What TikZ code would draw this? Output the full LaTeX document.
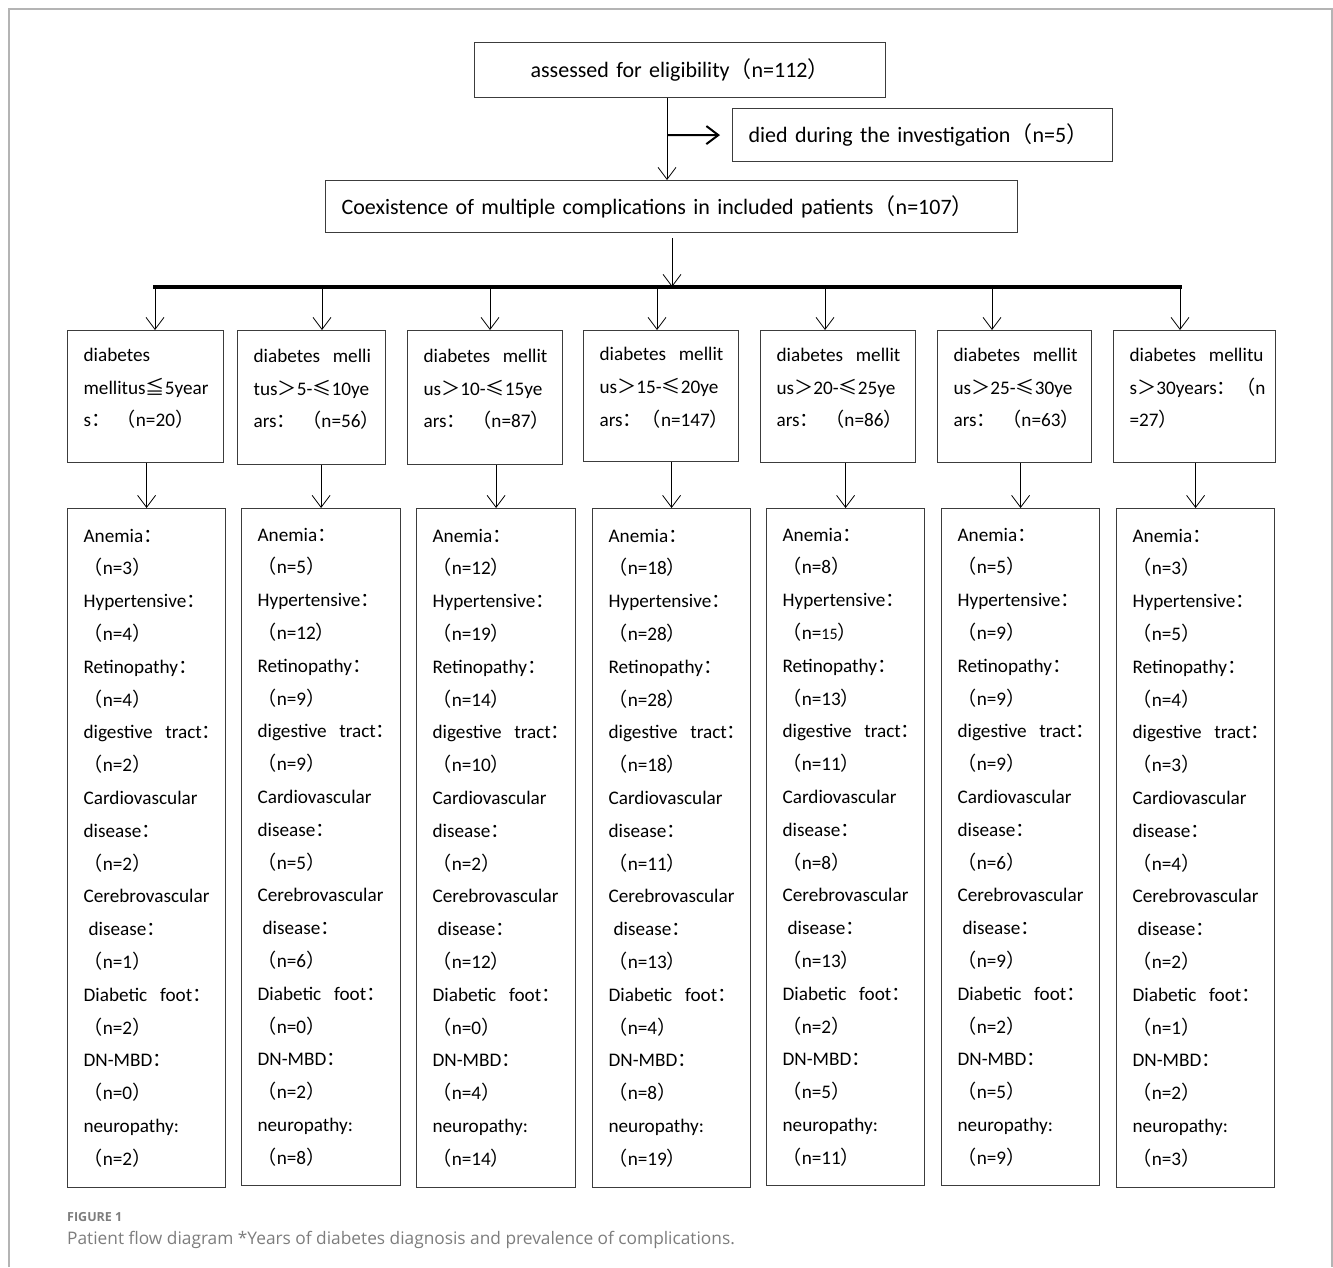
\documentclass[tikz,border=0pt]{standalone}
\usepackage{fontspec}
\setmainfont{Carlito}
\newfontfamily\cjk{Noto Sans CJK SC}
\newfontfamily\capfont{Open Sans}
\usetikzlibrary{arrows.meta,positioning,calc}
\definecolor{boxgray}{RGB}{60,60,60}
\definecolor{framegray}{RGB}{180,180,180}
\definecolor{captiongray}{RGB}{125,125,125}
\hyphenpenalty=10000
\exhyphenpenalty=10000
% full-width signs
\newcommand{\fwl}{{\cjk （}}
\newcommand{\fwr}{{\cjk ）}}
\newcommand{\fwc}{{\cjk ：}}
\newcommand{\fwg}{{\cjk ＞}}
\newcommand{\fwle}{{\cjk ≤}}
\newcommand{\fwlqq}{{\cjk ≦}}
\newcommand{\topsize}{\fontsize{22}{27}\selectfont}
% complication list of one group
\newcommand{\complist}[9]{Anemia\fwc\\\fwl n=#1\fwr\\Hypertensive\fwc\\\fwl n=#2\fwr\\Retinopathy\fwc\\\fwl n=#3\fwr\\digestive~~tract\fwc\\\fwl n=#4\fwr\\Cardiovascular\\disease\fwc\\\fwl n=#5\fwr\\Cerebrovascular\\\hspace*{5pt}disease\fwc\\\fwl n=#6\fwr\\Diabetic~~foot\fwc\\\fwl n=#7\fwr\\DN-MBD\fwc\\\fwl n=#8\fwr\\neuropathy:\\\fwl n=#9\fwr}

\begin{document}
\begin{tikzpicture}[x=1pt,y=-1pt,
  flowbox/.style={draw=boxgray, line width=1.2pt, inner xsep=16pt, inner ysep=0pt, align=left, anchor=north west},
  rowfont/.style={font=\fontsize{19.2}{32.8}\selectfont},
  arr/.style={-{Straight Barb[length=12pt,width=18pt]}, line width=0.8pt},
  bar/.style={line width=3.5pt}]
\useasboundingbox (0,0) rectangle (1333,1267);

% Frame of the figure
\draw[framegray, line width=1.5pt] (9,1267) -- (9,9) -- (1332,9) -- (1332,1267);

% Top of the flow
\node[flowbox, font=\topsize, align=center, minimum width=411pt, minimum height=55pt, text width=379pt] (assess) at (474,42) {assessed for eligibility\fwl n=112\fwr};
\node[flowbox, font=\topsize, minimum width=380pt, minimum height=53pt, text width=348pt] (died) at (732,108) {died during the investigation\fwl n=5\fwr};
\node[flowbox, font=\topsize, minimum width=692pt, minimum height=52pt, text width=660pt] (coex) at (325,180) {Coexistence of multiple complications in included patients\fwl n=107\fwr};

\coordinate (split) at (667,135);
\draw[arr] (split |- assess.south) -- (split |- coex.north);
\draw[arr, line width=2pt, shorten >=12pt] (split) -- (died.west);

% Branching bar
\coordinate (hub) at (672,287);
\coordinate (barL) at (153,287);
\coordinate (barR) at (1182,287);
\draw[arr] ([yshift=-5pt]hub |- coex.south) -- (hub);
\draw[bar] (barL) -- (barR);

% Groups by years of diabetes
\foreach \i/\l/\w/\h/\dx/\txt in {
  1/67/156/132/155/{diabetes\\mellitus\fwlqq 5year\\s\fwc~\fwl n=20\fwr},
  2/237/148/134/322/{diabetes~~melli\\tus\fwg 5-\fwle 10ye\\ars\fwc~\fwl n=56\fwr},
  3/407/155/134/490/{diabetes~~mellit\\us\fwg 10-\fwle 15ye\\ars\fwc~\fwl n=87\fwr},
  4/583/155/131/657/{diabetes~~mellit\\us\fwg 15-\fwle 20ye\\ars\fwc\fwl n=147\fwr},
  5/760/155/132/825/{diabetes~~mellit\\us\fwg 20-\fwle 25ye\\ars\fwc~\fwl n=86\fwr},
  6/937/154/132/992/{diabetes~~mellit\\us\fwg 25-\fwle 30ye\\ars\fwc~\fwl n=63\fwr},
  7/1113/162/132/1180/{diabetes~~mellitu\\s\fwg 30years\fwc\fwl n\\=27\fwr}}
{
  \pgfmathsetmacro\tw{\w-32}
  \node[flowbox, rowfont, text depth=84pt, minimum width=\w pt, minimum height=\h pt, text width=\tw pt] (g\i) at (\l,330) {\txt};
  \coordinate (d\i) at (\dx,287);
  \draw[arr] (d\i) -- (d\i |- g\i.north);
}

% Complications of each group
\foreach \i/\l/\w/\h/\txt in {
  1/67/158/679/{\complist{3}{4}{4}{2}{2}{1}{2}{0}{2}},
  2/241/159/677/{\complist{5}{12}{9}{9}{5}{6}{0}{2}{8}},
  3/416/159/679/{\complist{12}{19}{14}{10}{2}{12}{0}{4}{14}},
  4/592/158/679/{\complist{18}{28}{28}{18}{11}{13}{4}{8}{19}},
  5/766/158/677/{\complist{8}{{\fontsize{16}{32.8}\selectfont 15}}{13}{11}{8}{13}{2}{5}{11}},
  6/941/158/677/{\complist{5}{9}{9}{9}{6}{9}{2}{5}{9}},
  7/1116/158/679/{\complist{3}{5}{4}{3}{4}{2}{1}{2}{3}}}
{
  \pgfmathsetmacro\tw{\w-32}
  \node[flowbox, rowfont, minimum width=\w pt, minimum height=\h pt, text width=\tw pt] (c\i) at (\l,508) {\txt};
  \draw[arr] (c\i.north |- g\i.south) -- (c\i.north);
}

% Caption
\node[anchor=base west, inner sep=0pt, text=captiongray, font=\capfont\bfseries\fontsize{12.5}{15}\selectfont] (fig) at (67,1221) {FIGURE 1};
\node[anchor=base west, inner sep=0pt, text=captiongray, font=\capfont\fontsize{17.3}{20}\selectfont] (cap) at (67,1244) {Patient flow diagram *Years of diabetes diagnosis and prevalence of complications.};
\end{tikzpicture}
\end{document}
